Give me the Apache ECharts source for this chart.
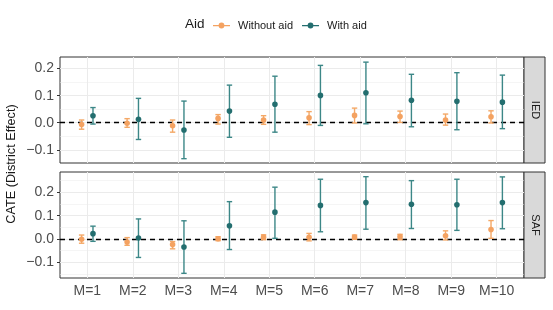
<!DOCTYPE html>
<html>
<head>
<meta charset="utf-8">
<script src="https://cdn.jsdelivr.net/npm/echarts@6/dist/echarts.min.js"></script>
<style>html,body{margin:0;padding:0;background:#fff}#c{width:553px;height:310px}</style>
</head>
<body>
<div id="c"></div>
<script>
const categories = ['M=1','M=2','M=3','M=4','M=5','M=6','M=7','M=8','M=9','M=10'];
const panels = ['IED','SAF'];
const yTicks = [-0.1, 0.0, 0.1, 0.2];

// IED panel
const iedWithoutEst = [-0.007,-0.002,-0.011,0.016,0.010,0.018,0.027,0.023,0.010,0.022];
const iedWithoutLo  = [-0.024,-0.017,-0.035,-0.005,-0.006,-0.007,-0.001,0.001,-0.009,-0.001];
const iedWithoutHi  = [0.010,0.015,0.010,0.030,0.026,0.041,0.054,0.043,0.032,0.044];
const iedWithEst = [0.026,0.013,-0.027,0.043,0.068,0.101,0.111,0.083,0.079,0.076];
const iedWithLo  = [-0.005,-0.062,-0.133,-0.054,-0.035,-0.010,-0.004,-0.015,-0.026,-0.022];
const iedWithHi  = [0.056,0.090,0.080,0.139,0.172,0.212,0.224,0.179,0.185,0.176];

// SAF panel
const safWithoutEst = [-0.001,-0.013,-0.024,0.001,0.008,0.007,0.008,0.010,0.014,0.041];
const safWithoutLo  = [-0.018,-0.027,-0.042,-0.007,-0.003,-0.008,-0.001,-0.003,-0.004,0.003];
const safWithoutHi  = [0.017,0.006,-0.011,0.010,0.018,0.024,0.017,0.020,0.035,0.079];
const safWithEst = [0.023,0.004,-0.034,0.057,0.115,0.144,0.156,0.149,0.147,0.156];
const safWithLo  = [-0.010,-0.079,-0.147,-0.045,0.003,0.031,0.042,0.045,0.037,0.044];
const safWithHi  = [0.055,0.086,0.078,0.160,0.222,0.256,0.267,0.250,0.256,0.266];

const ORANGE = '#F4A261', ORANGE_BAR = '#F4A866';
const TEAL = '#236E6F', TEAL_BAR = '#3C8787';
const FONT = '"Liberation Sans", Arial, sans-serif';

function pts(est, lo, hi, off) {
  return est.map((v, i) => [i + 1 + off, v, lo[i], hi[i]]);
}
function render(color, barColor) {
  return function (params, api) {
    const x = api.value(0);
    const pE = api.coord([x, api.value(1)]);
    const pL = api.coord([x, api.value(2)]);
    const pH = api.coord([x, api.value(3)]);
    const cw = 2.7;
    const st = {stroke: barColor, lineWidth: 1.4};
    return {type: 'group', children: [
      {type: 'line', shape: {x1: pL[0], y1: pL[1], x2: pH[0], y2: pH[1]}, style: st},
      {type: 'line', shape: {x1: pL[0]-cw, y1: pL[1], x2: pL[0]+cw, y2: pL[1]}, style: st},
      {type: 'line', shape: {x1: pH[0]-cw, y1: pH[1], x2: pH[0]+cw, y2: pH[1]}, style: st},
      {type: 'circle', shape: {cx: pE[0], cy: pE[1], r: 2.8}, style: {fill: color}}
    ]};
  };
}
function gridSeries(idx, minors) {
  const data = [];
  for (let i = 1; i <= categories.length; i++) data.push({xAxis: i, lineStyle: {width: 1}});
  yTicks.forEach(v => data.push({yAxis: v, lineStyle: {width: 1}}));
  minors.forEach(v => data.push({yAxis: v, lineStyle: {width: 0.5}}));
  return {
    type: 'line', xAxisIndex: idx, yAxisIndex: idx, data: [], z: 1, silent: true,
    markLine: {z: 1, silent: true, symbol: ['none','none'], label: {show: false}, animation: false,
      lineStyle: {color: '#EBEBEB', type: 'solid'}, data: data}
  };
}
function zeroSeries(idx) {
  return {
    type: 'line', xAxisIndex: idx, yAxisIndex: idx, data: [], z: 2, silent: true,
    markLine: {z: 2, silent: true, symbol: ['none','none'], label: {show: false}, animation: false,
      lineStyle: {color: '#000', type: [5, 4], width: 1.3}, data: [{yAxis: 0}]}
  };
}
function xAxis(idx, showLabels) {
  return {
    type: 'value', gridIndex: idx, min: 0.4, max: 10.6,
    axisLine: {show: false}, splitLine: {show: false},
    axisTick: {show: showLabels, length: 3, lineStyle: {color: '#333'}, customValues: categories.map((c, i) => i + 1)},
    axisLabel: {show: showLabels, margin: 6, color: '#4D4D4D', fontSize: 14, fontFamily: FONT,
      customValues: categories.map((c, i) => i + 1), formatter: v => categories[Math.round(v) - 1]}
  };
}
function yAxis(idx, min, max) {
  return {
    type: 'value', gridIndex: idx, min: min, max: max,
    axisLine: {show: false}, splitLine: {show: false},
    axisTick: {show: true, length: 3, lineStyle: {color: '#333'}, customValues: yTicks},
    axisLabel: {margin: 6, color: '#4D4D4D', fontSize: 14, fontFamily: FONT, customValues: yTicks,
      formatter: v => (v < 0 ? '\u2212' : '') + Math.abs(v).toFixed(1)}
  };
}

const chart = echarts.init(document.getElementById('c'), null, {renderer: 'canvas'});
const legendIcon = 'path://M0,3 L17,3 L17,4.2 L0,4.2 Z M8.5,0.6 A2.9,2.9 0 1 1 8.49,0.6 Z';
chart.setOption({
  animation: false,
  textStyle: {fontFamily: FONT},
  grid: [
    {left: 60, top: 57, width: 464, height: 106, show: true, borderColor: '#333', borderWidth: 1, backgroundColor: 'transparent'},
    {left: 60, top: 172, width: 464, height: 106, show: true, borderColor: '#333', borderWidth: 1, backgroundColor: 'transparent'}
  ],
  xAxis: [xAxis(0, false), xAxis(1, true)],
  yAxis: [yAxis(0, -0.149, 0.243), yAxis(1, -0.167, 0.287)],
  legend: {
    left: 208, top: 15, itemWidth: 17, itemHeight: 7, itemGap: 9,
    textStyle: {fontSize: 11, color: '#1A1A1A', fontFamily: FONT, padding: [0, 0, 0, 3]},
    data: [{name: 'Without aid', icon: legendIcon}, {name: 'With aid', icon: legendIcon}]
  },
  graphic: [
    {type: 'text', left: 185, top: 17, style: {text: 'Aid', fontSize: 13.5, fill: '#1A1A1A', fontFamily: FONT}},
    {type: 'text', x: 11.5, y: 164, rotation: Math.PI / 2,
      style: {text: 'CATE (District Effect)', fontSize: 12.7, fill: '#1A1A1A', fontFamily: FONT, align: 'center', verticalAlign: 'middle'}},
    {type: 'rect', shape: {x: 524, y: 57, width: 21, height: 106}, style: {fill: '#D9D9D9', stroke: '#333', lineWidth: 1}},
    {type: 'rect', shape: {x: 524, y: 172, width: 21, height: 106}, style: {fill: '#D9D9D9', stroke: '#333', lineWidth: 1}},
    {type: 'text', x: 535, y: 110, rotation: -Math.PI / 2,
      style: {text: panels[0], fontSize: 11, fill: '#1A1A1A', fontFamily: FONT, align: 'center', verticalAlign: 'middle'}},
    {type: 'text', x: 535, y: 225, rotation: -Math.PI / 2,
      style: {text: panels[1], fontSize: 11, fill: '#1A1A1A', fontFamily: FONT, align: 'center', verticalAlign: 'middle'}}
  ],
  series: [
    gridSeries(0, [-0.05, 0.05, 0.15]),
    gridSeries(1, [-0.15, -0.05, 0.05, 0.15, 0.25]),
    zeroSeries(0), zeroSeries(1),
    {name: 'Without aid', type: 'custom', xAxisIndex: 0, yAxisIndex: 0, z: 10, itemStyle: {color: ORANGE},
      renderItem: render(ORANGE, ORANGE_BAR), encode: {x: 0, y: 1}, data: pts(iedWithoutEst, iedWithoutLo, iedWithoutHi, -0.125)},
    {name: 'With aid', type: 'custom', xAxisIndex: 0, yAxisIndex: 0, z: 10, itemStyle: {color: TEAL},
      renderItem: render(TEAL, TEAL_BAR), encode: {x: 0, y: 1}, data: pts(iedWithEst, iedWithLo, iedWithHi, 0.125)},
    {name: 'Without aid', type: 'custom', xAxisIndex: 1, yAxisIndex: 1, z: 10, itemStyle: {color: ORANGE},
      renderItem: render(ORANGE, ORANGE_BAR), encode: {x: 0, y: 1}, data: pts(safWithoutEst, safWithoutLo, safWithoutHi, -0.125)},
    {name: 'With aid', type: 'custom', xAxisIndex: 1, yAxisIndex: 1, z: 10, itemStyle: {color: TEAL},
      renderItem: render(TEAL, TEAL_BAR), encode: {x: 0, y: 1}, data: pts(safWithEst, safWithLo, safWithHi, 0.125)}
  ]
});
</script>
</body>
</html>
